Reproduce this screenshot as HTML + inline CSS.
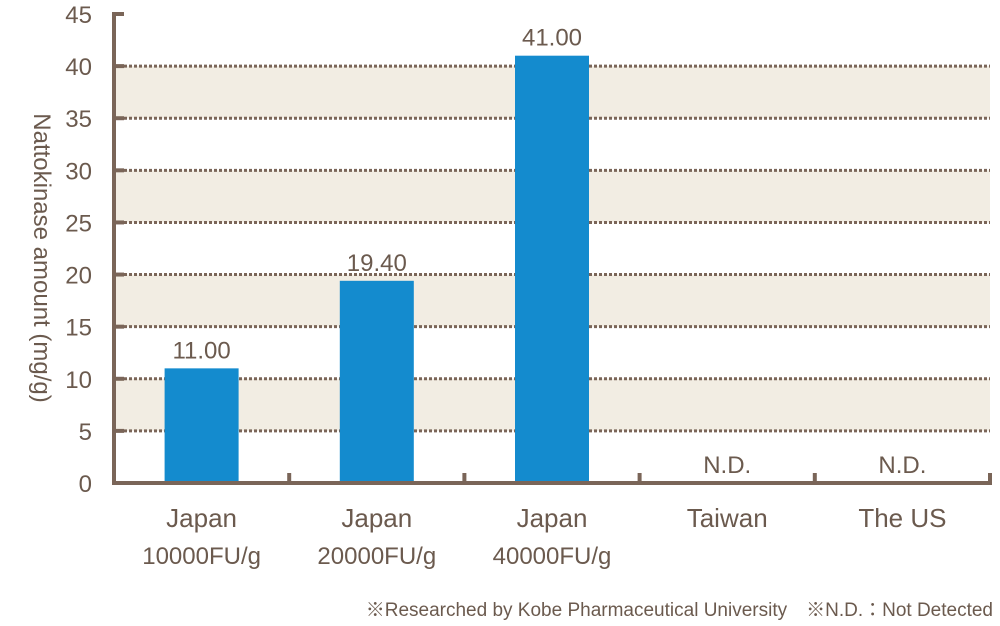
<!DOCTYPE html>
<html><head><meta charset="utf-8"><style>
body{margin:0;background:#fff;}
svg{display:block;font-family:"Liberation Sans","Noto Sans CJK JP",sans-serif;}
</style></head><body>
<svg width="1000" height="626" viewBox="0 0 1000 626">
<g id="bands"></g><g id="grid"></g><g id="bars"></g><g id="axes"></g><g id="labels"></g>
<text transform="translate(34,258) rotate(90)" text-anchor="middle" font-size="24" fill="#6b5a4e">Nattokinase amount  (mg/g)</text>
<text x="993" y="616" text-anchor="end" font-size="19" fill="#6b5a4e">※Researched by Kobe Pharmaceutical University　※N.D.：Not Detected</text>
</svg>
<script>
const categories=["Japan","Japan","Japan","Taiwan","The US"];
const subLabels=["10000FU/g","20000FU/g","40000FU/g","",""];
const values=[11.0,19.4,41.0,null,null];
const valueLabels=["11.00","19.40","41.00","N.D.","N.D."];
const yTicks=[0,5,10,15,20,25,30,35,40,45];
const NS="http://www.w3.org/2000/svg";
const x0=114,x1=990,y0=483,yTop=14,yMax=45;
const y=v=>y0-(v/yMax)*(y0-yTop);
const bw=(x1-x0)/categories.length;
const xc=i=>x0+bw*(i+0.5);
function mk(p,tag,a){const e=document.createElementNS(NS,tag);for(const k in a)e.setAttribute(k,a[k]);document.getElementById(p).appendChild(e);return e;}
const C="#7a6558",T="#6b5a4e";
for(let k=0;k<yTicks.length-1;k++){
  if(k%2===1&&yTicks[k+1]<=40){
    const r=mk('bands','rect',{x:x0,y:y(yTicks[k+1]),width:x1-x0,height:y(yTicks[k])-y(yTicks[k+1]),fill:"#f2ede3"});
    
    
  }
}
yTicks.forEach(t=>{
  if(t>0&&t<45){
    const l=mk('grid','line',{x1:x0,x2:x1,y1:y(t),y2:y(t),stroke:C,"stroke-width":3,"stroke-dasharray":"3 2"});
    
    
  }
  const tk=mk('axes','line',{x1:x0,x2:x0+10,y1:y(t),y2:y(t),stroke:C,"stroke-width":4});
  
  
  const tx=mk('labels','text',{x:92,y:y(t)+9,"text-anchor":"end","font-size":24,fill:T});
  tx.textContent=t;
  
  
});
values.forEach((v,i)=>{
  if(v!==null){
    const b=mk('bars','rect',{x:xc(i)-37,y:y(v),width:74,height:y0-y(v),fill:"#148bce"});
    
    
  }
  const vl=mk('labels','text',{x:xc(i),y:(v!==null?y(v):y0)-10,"text-anchor":"middle","font-size":24,fill:T});
  vl.textContent=valueLabels[i];
  
  
  const c=mk('labels','text',{x:xc(i),y:527,"text-anchor":"middle","font-size":26,fill:T});
  c.textContent=categories[i];
  
  
  if(subLabels[i]){
    const s=mk('labels','text',{x:xc(i),y:564,"text-anchor":"middle","font-size":24,fill:T});
    s.textContent=subLabels[i];
    
    
  }
  const xt=mk('axes','line',{x1:x0+bw*(i+1),x2:x0+bw*(i+1),y1:y0-10,y2:y0,stroke:C,"stroke-width":4});
  
  
});
const ya=mk('axes','line',{x1:x0,x2:x0,y1:yTop-2,y2:y0+2,stroke:C,"stroke-width":4});


const xa=mk('axes','line',{x1:x0-2,x2:x1+2,y1:y0,y2:y0,stroke:C,"stroke-width":4});


</script>
</body></html>
